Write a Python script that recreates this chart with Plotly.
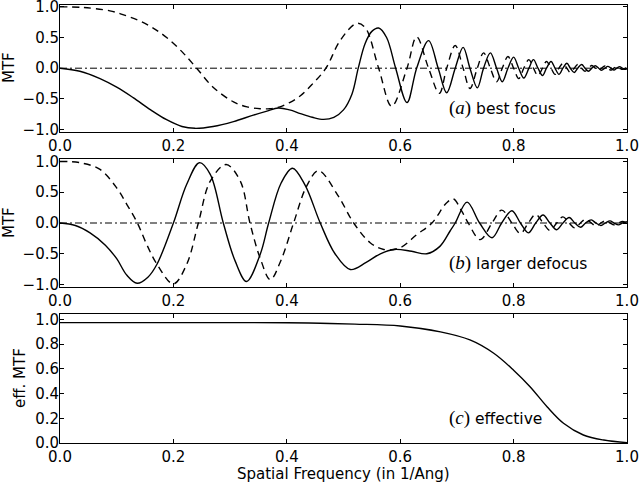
import plotly.graph_objects as go

# ---------------- data ----------------
# panel (a) best focus
a_solid_x = [0, 0.035, 0.0706, 0.1, 0.129, 0.16, 0.188, 0.215, 0.238, 0.27, 0.306, 0.341, 0.365, 0.385,
             0.405, 0.424, 0.445, 0.465, 0.483, 0.5, 0.515, 0.526, 0.538, 0.55, 0.562, 0.576, 0.592,
             0.612, 0.629, 0.650, 0.667, 0.682, 0.697, 0.711, 0.723, 0.736, 0.747, 0.759, 0.770, 0.780,
             0.790, 0.800, 0.809, 0.818, 0.827, 0.835, 0.843, 0.851, 0.858, 0.866, 0.873, 0.880, 0.887,
             0.894, 0.900, 0.907, 0.913, 0.920, 0.926, 0.932, 0.938, 0.944, 0.950, 0.955, 0.961, 0.966,
             0.972, 0.977, 0.982, 0.987, 0.992, 0.997, 1.0]
a_solid_y = [0, -0.05, -0.17, -0.31, -0.48, -0.68, -0.84, -0.95, -0.98, -0.95, -0.87, -0.765, -0.70, -0.65,
             -0.68, -0.74, -0.80, -0.835, -0.80, -0.68, -0.42, 0, 0.40, 0.60, 0.655, 0.50, 0,
             -0.56, 0, 0.45, 0, -0.40, 0, 0.34, 0, -0.32, 0, 0.25, 0, -0.22,
             0, 0.18, 0, -0.16, 0, 0.14, 0, -0.12, 0, 0.11, 0, -0.10, 0,
             0.08, 0, -0.07, 0, 0.06, 0, -0.05, 0, 0.04, 0, -0.035, 0, 0.03,
             0, -0.03, 0, 0.025, 0, -0.02, -0.01]

a_dash_x = [0, 0.04, 0.088, 0.115, 0.141, 0.165, 0.188, 0.215, 0.241, 0.27, 0.306, 0.33, 0.353, 0.37,
            0.388, 0.405, 0.424, 0.445, 0.469, 0.494, 0.523, 0.538, 0.562, 0.585, 0.612,
            0.629, 0.650, 0.669, 0.682, 0.697, 0.711, 0.723, 0.736, 0.747, 0.759, 0.770, 0.780, 0.790,
            0.800, 0.809, 0.818, 0.827, 0.835, 0.843, 0.851, 0.858, 0.866, 0.873, 0.880, 0.887, 0.894,
            0.900, 0.907, 0.913, 0.920, 0.926, 0.932, 0.938, 0.944, 0.950, 0.955, 0.961, 0.966, 0.972,
            0.977, 0.982, 0.987, 0.992, 0.997, 1.0]
a_dash_y = [1.0, 0.99, 0.935, 0.86, 0.77, 0.65, 0.50, 0.27, 0, -0.31, -0.55, -0.63, -0.66, -0.66,
            -0.63, -0.56, -0.45, -0.26, 0, 0.45, 0.73, 0.665, 0, -0.62, 0,
            0.51, 0, -0.41, 0, 0.37, 0, -0.33, 0, 0.25, 0, -0.22, 0, 0.19,
            0, -0.17, 0, 0.14, 0, -0.12, 0, 0.11, 0, -0.10, 0, 0.08, 0,
            -0.07, 0, 0.06, 0, -0.05, 0, 0.045, 0, -0.04, 0, 0.035, 0, -0.03,
            0, 0.025, 0, -0.02, 0, 0.01]

# panel (b) larger defocus
b_solid_x = [0, 0.027, 0.053, 0.08, 0.1, 0.118, 0.136, 0.155, 0.171, 0.2, 0.2235, 0.246, 0.265, 0.288,
             0.309, 0.329, 0.353, 0.368, 0.39, 0.41, 0.432, 0.459, 0.485, 0.512, 0.54, 0.565, 0.59,
             0.62, 0.647, 0.67, 0.688, 0.697, 0.718, 0.740, 0.762, 0.779, 0.797, 0.812, 0.826, 0.839,
             0.852, 0.864, 0.876, 0.887, 0.898, 0.908, 0.918, 0.927, 0.937, 0.945, 0.954, 0.962, 0.970,
             0.977, 0.985, 0.992, 1.0]
b_solid_y = [0, -0.04, -0.16, -0.36, -0.58, -0.85, -0.98, -0.88, -0.67, 0, 0.63, 0.98, 0.79, 0,
             -0.62, -0.95, -0.51, 0, 0.65, 0.89, 0.62, 0, -0.50, -0.756, -0.64, -0.50, -0.43,
             -0.46, -0.50, -0.38, -0.13, 0, 0.34, 0, -0.24, 0, 0.20, 0, -0.16, 0,
             0.13, 0, -0.11, 0, 0.09, 0, -0.07, 0, 0.05, 0, -0.04, 0, 0.035,
             0, -0.03, 0, 0.02]

b_dash_x = [0, 0.035, 0.0706, 0.1, 0.118, 0.1365, 0.153, 0.171, 0.2, 0.2235, 0.244, 0.265, 0.293, 0.318,
            0.335, 0.353, 0.371, 0.39, 0.412, 0.435, 0.456, 0.49, 0.518, 0.547, 0.571, 0.6, 0.629,
            0.656, 0.682, 0.694, 0.708, 0.72, 0.741, 0.762, 0.779, 0.797, 0.812, 0.826, 0.839, 0.852,
            0.864, 0.876, 0.887, 0.898, 0.908, 0.918, 0.927, 0.937, 0.945, 0.954, 0.962, 0.970, 0.977,
            0.985, 0.992, 1.0]
b_dash_y = [1.0, 0.98, 0.87, 0.57, 0.30, 0, -0.35, -0.67, -0.99, -0.67, 0, 0.68, 0.95, 0.68,
            0, -0.57, -0.92, -0.60, 0, 0.60, 0.85, 0.45, 0, -0.32, -0.43, -0.40, -0.19,
            0, 0.33, 0.39, 0.20, 0, -0.27, 0, 0.21, 0, -0.17, 0, 0.14, 0,
            -0.12, 0, 0.10, 0, -0.08, 0, 0.06, 0, -0.05, 0, 0.04, 0, -0.03,
            0, 0.025, 0]

# panel (c) effective
c_x = [0, 0.1, 0.2, 0.3, 0.4, 0.459, 0.52, 0.6, 0.671, 0.723, 0.765, 0.8, 0.829, 0.859, 0.888, 0.923,
       0.959, 1.0]
c_y = [0.975, 0.975, 0.975, 0.975, 0.974, 0.97, 0.963, 0.948, 0.90, 0.835, 0.727, 0.59, 0.456, 0.294,
       0.16, 0.065, 0.024, 0.003]

x_ticks = [0.0, 0.2, 0.4, 0.6, 0.8, 1.0]
x_tick_text = ["0.0", "0.2", "0.4", "0.6", "0.8", "1.0"]
mtf_ticks = [-1.0, -0.5, 0.0, 0.5, 1.0]
mtf_tick_text = ["\u22121.0", "\u22120.5", "0.0", "0.5", "1.0"]
eff_ticks = [0.0, 0.2, 0.4, 0.6, 0.8, 1.0]
eff_tick_text = ["0.0", "0.2", "0.4", "0.6", "0.8", "1.0"]

# ---------------- figure ----------------
W, H = 640, 484
FONT = "DejaVu Sans"
fig = go.Figure()

def px_x(p):
    return p / W

def px_y(p):
    return 1 - p / H

xdom = [px_x(60), px_x(627)]
doms = {
    "a": [px_y(132), px_y(5)],
    "b": [px_y(287), px_y(159)],
    "c": [px_y(443), px_y(314)],
}

line_solid = dict(color="black", width=1.4, shape="spline", smoothing=1.0)
line_dash = dict(color="black", width=1.4, shape="spline", smoothing=1.0, dash="7px,5px")

fig.add_trace(go.Scatter(x=a_dash_x, y=a_dash_y, mode="lines", line=line_dash, xaxis="x", yaxis="y"))
fig.add_trace(go.Scatter(x=a_solid_x, y=a_solid_y, mode="lines", line=line_solid, xaxis="x", yaxis="y"))
fig.add_trace(go.Scatter(x=b_dash_x, y=b_dash_y, mode="lines", line=line_dash, xaxis="x2", yaxis="y2"))
fig.add_trace(go.Scatter(x=b_solid_x, y=b_solid_y, mode="lines", line=line_solid, xaxis="x2", yaxis="y2"))
fig.add_trace(go.Scatter(x=c_x, y=c_y, mode="lines", line=line_solid, xaxis="x3", yaxis="y3"))

# zero reference lines
for xa, ya in [("x", "y"), ("x2", "y2")]:
    fig.add_shape(type="line", xref=f"{xa} domain", yref=ya, x0=0, x1=1, y0=0, y1=0,
                  line=dict(color="black", width=1, dash="7px,3px,2px,3px"))

axis_common = dict(showgrid=False, zeroline=False, showline=True, mirror="ticks", automargin=False,
                   linecolor="black", linewidth=1, ticks="inside", ticklen=4, tickwidth=1,
                   tickcolor="black", ticklabeloverflow="allow",
                   tickfont=dict(family=FONT, size=15, color="black"))
y_extra = dict(ticklabelstandoff=-3)

fig.update_layout(
    width=W, height=H, margin=dict(l=0, r=0, t=0, b=0, autoexpand=False),
    paper_bgcolor="white", plot_bgcolor="white", showlegend=False,
    font=dict(family=FONT, size=15, color="black"),
    xaxis=dict(domain=xdom, range=[0, 1], tickvals=x_ticks, ticktext=x_tick_text, anchor="y", **axis_common),
    yaxis=dict(domain=doms["a"], range=[-1.04, 1.03], tickvals=mtf_ticks, ticktext=mtf_tick_text,
               anchor="x", **axis_common, **y_extra),
    xaxis2=dict(domain=xdom, range=[0, 1], tickvals=x_ticks, ticktext=x_tick_text, anchor="y2", **axis_common),
    yaxis2=dict(domain=doms["b"], range=[-1.04, 1.04], tickvals=mtf_ticks, ticktext=mtf_tick_text,
                anchor="x2", **axis_common, **y_extra),
    xaxis3=dict(domain=xdom, range=[0, 1], tickvals=x_ticks, ticktext=x_tick_text, anchor="y3", **axis_common),
    yaxis3=dict(domain=doms["c"], range=[0, 1.045], tickvals=eff_ticks, ticktext=eff_tick_text,
                anchor="x3", **axis_common, **y_extra),
)

# axis titles
title_font = dict(family=FONT, size=15, color="black")
fig.add_annotation(xref="paper", yref="paper", x=px_x(9), y=px_y(68), text="MTF", textangle=-90,
                   showarrow=False, xanchor="center", yanchor="middle", font=title_font)
fig.add_annotation(xref="paper", yref="paper", x=px_x(9), y=px_y(223), text="MTF", textangle=-90,
                   showarrow=False, xanchor="center", yanchor="middle", font=title_font)
fig.add_annotation(xref="paper", yref="paper", x=px_x(20), y=px_y(378), text="eff. MTF", textangle=-90,
                   showarrow=False, xanchor="center", yanchor="middle", font=title_font)
fig.add_annotation(xref="paper", yref="paper", x=px_x(343), y=px_y(474), text="Spatial Frequency (in 1/Ang)",
                   showarrow=False, xanchor="center", yanchor="middle", font=title_font)

SERIF = "<span style='font-family:Liberation Serif;font-size:19px'>({})</span>"
labels = [("x domain", "y domain", "a", " best focus"),
          ("x2 domain", "y2 domain", "b", " larger defocus"),
          ("x3 domain", "y3 domain", "c", " effective")]
for xr, yr, letter, txt in labels:
    fig.add_annotation(
        xref=xr, yref=yr, x=(447 - 60) / 567, y=0.19, xanchor="left", yanchor="middle",
        text=SERIF.format(f"<i>{letter}</i>") + txt, showarrow=False,
        font=dict(family=FONT, size=15.5, color="black"))

# remove the page's default 8px body margin so the figure sits at the window's corner
fig.write_html("out.html", config={"displayModeBar": False},
               post_script="document.body.style.margin='0';")
